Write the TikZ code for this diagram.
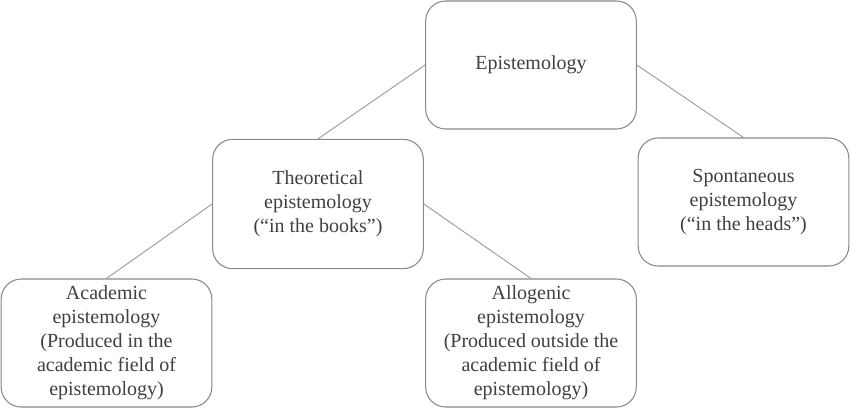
\documentclass[tikz,border=0pt]{standalone}
\usepackage{fontspec}
\setmainfont{Liberation Serif}
\usetikzlibrary{positioning}
\definecolor{epiLine}{HTML}{8A8A8A}
\definecolor{epiText}{HTML}{404040}

\begin{document}
\begin{tikzpicture}[x=0.75pt,y=-0.75pt,
   box/.style={draw=epiLine,fill=white,line width=0.8pt,rounded corners=15pt,
               minimum width=158pt,minimum height=96pt,align=center,inner sep=2pt,
               text=epiText,font=\fontsize{15}{18}\selectfont},
   link/.style={draw=epiLine!85,line width=0.7pt}]
  \useasboundingbox (0,0) rectangle (850,408);
  \node[box] (epi) at (531,65) {Epistemology};
  \node[box,minimum height=97pt] (theo) at (318,204) {Theoretical\\epistemology\\(``in the books'')};
  \node[box] (spont) at (743.5,202) {Spontaneous\\epistemology\\(``in the heads'')};
  \node[box] (acad) at (106.5,343) {Academic\\epistemology\\(Produced in the\\academic field of\\epistemology)};
  \node[box] (allo) at (531,343) {Allogenic\\epistemology\\(Produced outside the\\academic field of\\epistemology)};
  % links between levels
  \draw[link] (epi.west) -- (theo.north);
  \draw[link] (epi.east) -- (spont.north);
  \draw[link] (theo.west) -- (acad.north);
  \draw[link] (theo.east) -- (allo.north);
\end{tikzpicture}
\end{document}
